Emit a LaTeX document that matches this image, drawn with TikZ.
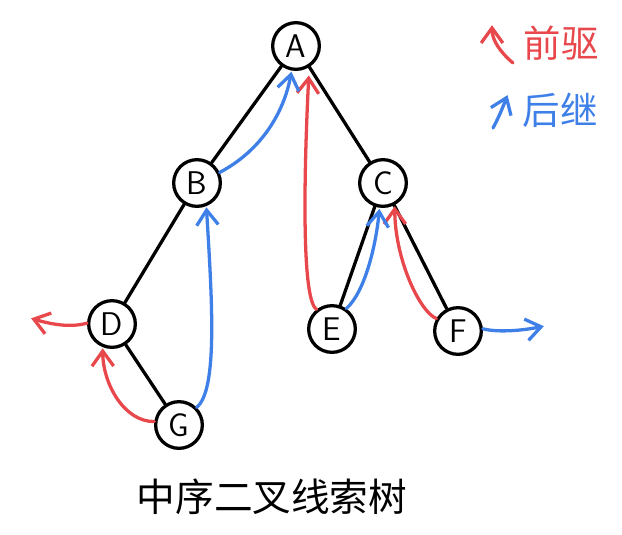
\documentclass[tikz,border=0pt]{standalone}
\usepackage{fontspec}
\newfontfamily\cjk{Noto Sans CJK SC}
\usetikzlibrary{arrows.meta}
\definecolor{prered}{RGB}{232,72,76}
\definecolor{sucblue}{RGB}{62,128,232}

\begin{document}
\begin{tikzpicture}[x=0.3mm,y=-0.3mm,line width=2.8pt,line cap=round,line join=round,
    >={Straight Barb[length=4.5mm,width=6.5mm]},
    tnode/.style={circle,draw,minimum size=14mm,inner sep=0pt,font=\sffamily\fontsize{28}{30}\selectfont},
    pre/.style={->,prered,shorten >=1pt},
    suc/.style={->,sucblue,shorten >=1pt}]
      \useasboundingbox (0,0) rectangle (622,534);
      % tree nodes
      \node[tnode] (A) at (296,46) {A};
      \node[tnode] (B) at (197,183) {B};
      \node[tnode] (C) at (383,183) {C};
      \node[tnode] (D) at (112,324) {D};
      \node[tnode] (E) at (332,329) {E};
      \node[tnode] (F) at (458,331) {F};
      \node[tnode] (G) at (179,425) {G};
      \coordinate (Dnil) at (30,318);
      \coordinate (Fnil) at (545,326);
      % tree edges
      \draw (A) -- (B);
      \draw (A) -- (C);
      \draw (B) -- (D);
      \draw (D) -- (G);
      \draw (C) -- (E);
      \draw (C) -- (F);
      % predecessor threads
      \draw[pre] (D.178) .. controls (70,328) and (50,324) .. (Dnil);
      \draw[pre] (G.172) .. controls (125,422) and (103,385) .. (D.-112);
      \draw[pre,shorten >=2.5mm] (E.128) .. controls (300,300) and (305,150) .. (A.-58);
      \draw[pre] (F.150) .. controls (420,312) and (395,260) .. (C.-62);
      % successor threads
      \draw[suc] (G.45) .. controls (218,390) and (212,300) .. (B.-68);
      \draw[suc] (B.25) .. controls (262,150) and (284,112) .. (A.-100);
      \draw[suc] (E.55) .. controls (365,292) and (376,245) .. (C.-98);
      \draw[suc] (F.5) .. controls (500,333) and (525,330) .. (Fnil);
      % legend
      \coordinate (prestart) at (513,63);
      \coordinate (preend) at (492,24);
      \coordinate (sucstart) at (493,128);
      \coordinate (sucend) at (508,94);
      \draw[pre] (prestart) .. controls (500,52) and (492,40) .. (preend);
      \draw[suc] (sucstart) .. controls (500,115) and (504,104) .. (sucend);
      \node[prered,font=\cjk\fontsize{32}{36}\selectfont] (prelabel) at (561,43) {前驱};
      \node[sucblue,font=\cjk\fontsize{32}{36}\selectfont] (suclabel) at (560,110) {后继};
      % title
      \node[font=\cjk\fontsize{33}{38}\selectfont] (title) at (272,497) {中序二叉线索树};
    \end{tikzpicture}
\end{document}
